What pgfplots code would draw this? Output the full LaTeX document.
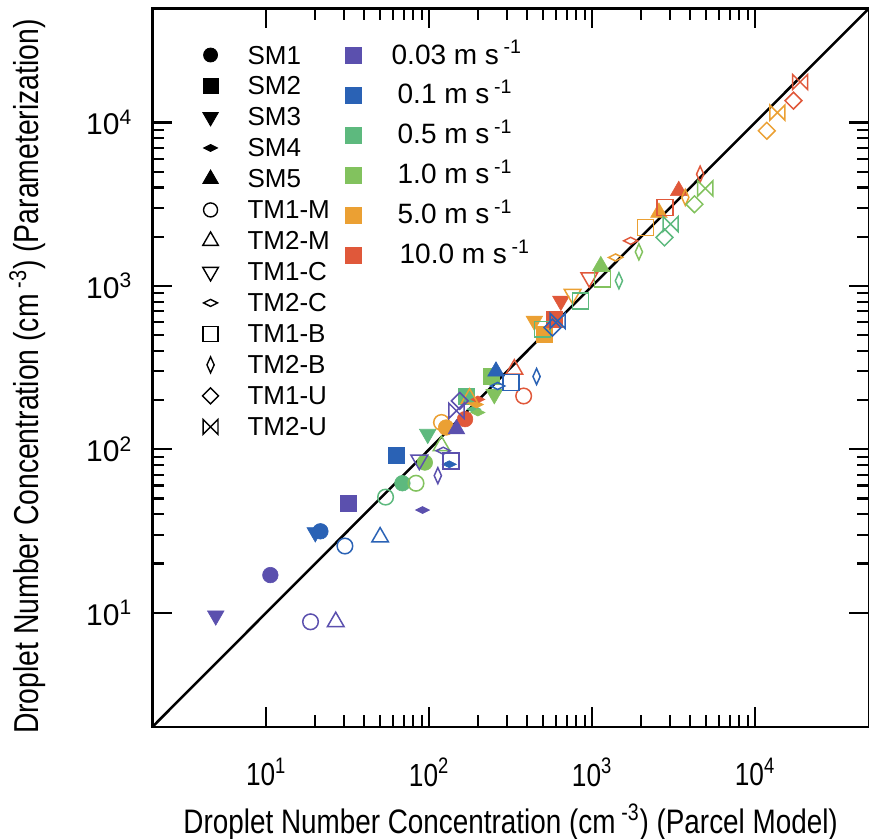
\documentclass[border=0pt]{standalone}
\usepackage{pgfplots}
\pgfplotsset{compat=1.18}
\usepackage{fontspec}
\setmainfont{Liberation Sans}
\newfontfamily\narrowfont[FakeStretch=0.82]{Liberation Sans}

\definecolor{c003}{HTML}{5B50AE}
\definecolor{c01}{HTML}{2A62B5}
\definecolor{c05}{HTML}{5DB97E}
\definecolor{c10}{HTML}{82C25E}
\definecolor{c50}{HTML}{EBA033}
\definecolor{c100}{HTML}{E0583A}

\pgfdeclareplotmark{flatdiam}{%
 \pgfpathmoveto{\pgfqpoint{-\pgfplotmarksize}{0pt}}%
 \pgfpathlineto{\pgfqpoint{0pt}{0.5\pgfplotmarksize}}%
 \pgfpathlineto{\pgfqpoint{\pgfplotmarksize}{0pt}}%
 \pgfpathlineto{\pgfqpoint{0pt}{-0.5\pgfplotmarksize}}%
 \pgfpathclose\pgfusepathqstroke}
\pgfdeclareplotmark{flatdiam*}{%
 \pgfpathmoveto{\pgfqpoint{-\pgfplotmarksize}{0pt}}%
 \pgfpathlineto{\pgfqpoint{0pt}{0.5\pgfplotmarksize}}%
 \pgfpathlineto{\pgfqpoint{\pgfplotmarksize}{0pt}}%
 \pgfpathlineto{\pgfqpoint{0pt}{-0.5\pgfplotmarksize}}%
 \pgfpathclose\pgfusepathqfillstroke}
\pgfdeclareplotmark{thindiam}{%
 \pgfpathmoveto{\pgfqpoint{0pt}{\pgfplotmarksize}}%
 \pgfpathlineto{\pgfqpoint{0.45\pgfplotmarksize}{0pt}}%
 \pgfpathlineto{\pgfqpoint{0pt}{-\pgfplotmarksize}}%
 \pgfpathlineto{\pgfqpoint{-0.45\pgfplotmarksize}{0pt}}%
 \pgfpathclose\pgfusepathqstroke}
\pgfdeclareplotmark{sqdiam}{%
 \pgfpathmoveto{\pgfqpoint{0pt}{\pgfplotmarksize}}%
 \pgfpathlineto{\pgfqpoint{\pgfplotmarksize}{0pt}}%
 \pgfpathlineto{\pgfqpoint{0pt}{-\pgfplotmarksize}}%
 \pgfpathlineto{\pgfqpoint{-\pgfplotmarksize}{0pt}}%
 \pgfpathclose\pgfusepathqstroke}
\pgfdeclareplotmark{bowtie}{%
 \pgfpathmoveto{\pgfqpoint{-\pgfplotmarksize}{\pgfplotmarksize}}%
 \pgfpathlineto{\pgfqpoint{-\pgfplotmarksize}{-\pgfplotmarksize}}%
 \pgfpathlineto{\pgfqpoint{\pgfplotmarksize}{\pgfplotmarksize}}%
 \pgfpathlineto{\pgfqpoint{\pgfplotmarksize}{-\pgfplotmarksize}}%
 \pgfpathclose\pgfusepathqstroke}

\newcommand{\tl}[1]{10\textsuperscript{#1}}

\pgfplotsset{
  vel/.style={scatter, only marks, scatter src=explicit symbolic,
    scatter/classes={a={draw=c003,fill=c003},b={draw=c01,fill=c01},c={draw=c05,fill=c05},
                     d={draw=c10,fill=c10},e={draw=c50,fill=c50},f={draw=c100,fill=c100}},
    forget plot},
  openm/.style={mark options={line width=0.75pt, fill=none}},
  fillm/.style={mark options={line width=0.3pt}},
}

\begin{document}
\begin{tikzpicture}
\begin{axis}[
  scale only axis, width=358.5pt, height=359.5pt,
  xmode=log, ymode=log, xmin=2, xmax=5e4, ymin=2, ymax=5e4,
  axis line style={line width=1.4pt},
  tick align=inside, major tick length=10pt, minor tick length=6pt,
  every tick/.style={black, line width=1.1pt},
  xtick={10,100,1000,10000}, ytick={10,100,1000,10000},
  xticklabels={\tl{1},\tl{2},\tl{3},\tl{4}},
  yticklabels={\tl{1},\tl{2},\tl{3},\tl{4}},
  xticklabel style={font=\narrowfont\fontsize{16}{19}\selectfont, yshift=-12pt},
  yticklabel style={font=\fontsize{15}{18}\selectfont, xshift=-6.5pt},
  xlabel={Droplet Number Concentration (cm\,\textsuperscript{-3}) (Parcel Model)},
  ylabel={Droplet Number Concentration (cm\,\textsuperscript{-3}) (Parameterization)},
  xlabel style={font=\narrowfont\fontsize{17}{20}\selectfont, at={(axis description cs:0.5,-0.1322)}, anchor=center},
  ylabel style={font=\narrowfont\fontsize{17.3}{20}\selectfont, at={(axis description cs:-0.174,0.4875)}, anchor=center},
  legend style={draw=none, fill=none, at={(axis description cs:0.0701,0.9475)}, anchor=north west,
    inner sep=0pt, outer sep=0pt, row sep=6.5pt,
    font=\fontsize{13}{15}\selectfont,
    nodes={inner sep=0pt, text height=9pt, text depth=0pt},
    /tikz/every odd column/.style={column sep=14.5pt}},
  legend cell align=left,
]
\coordinate (SW) at (rel axis cs:0,0);
\coordinate (NE) at (rel axis cs:1,1);

\addplot[black, line width=1.25pt, forget plot] coordinates {(2,2) (5e4,5e4)};

% SM1 filled circle
\addplot[vel, fillm, mark=*, mark size=3.9pt] table[meta=v] {
x y v
10.6 17 a
21.5 31.5 b
68.5 62 c
94 83 d
127 136 e
166 153 f
};
% SM2 filled square
\addplot[vel, fillm, mark=square*, mark size=4pt] table[meta=v] {
x y v
32 47 a
63 92 b
169 212 c
240 281 d
508 506 e
586 625 f
};
% SM3 filled down triangle
\addplot[vel, mark=triangle*, mark size=4.8pt, mark options={rotate=180, line width=0.3pt}] table[meta=v] {
x y v
4.9 9.6 a
20 31 b
98 124 c
251 217 d
442 611 e
643 809 f
};
% SM4 filled flat diamond
\addplot[vel, fillm, mark=flatdiam*, mark size=3.5pt] table[meta=v] {
x y v
91 42.5 a
133 81 b
188 176 c
199 168 d
195 188 e
199 202 f
};
% SM5 filled up triangle
\addplot[vel, fillm, mark=triangle*, mark size=4.8pt] table[meta=v] {
x y v
147 133 a
257 300 b
1130 1325 d
2570 2810 e
3400 3820 f
};
% TM1-M open circle
\addplot[vel, openm, mark=o, mark size=3.9pt] table[meta=v] {
x y v
18.7 8.8 a
30.4 25.6 b
54 51 c
83 62 d
119 146 e
380 212 f
};
% TM2-M open triangle
\addplot[vel, openm, mark=triangle, mark size=4.8pt] table[meta=v] {
x y v
26.7 8.8 a
50 29 b
119 105 d
177 205 e
333 309 f
};
% TM1-C open down triangle
\addplot[vel, mark=triangle, mark size=4.8pt, mark options={rotate=180, line width=0.75pt}] table[meta=v] {
x y v
87 86 a
759 889 e
960 1125 f
};
% TM2-C open flat diamond
\addplot[vel, openm, mark=flatdiam, mark size=3.5pt] table[meta=v] {
x y v
122 98 a
263 244 b
1393 1493 e
1722 1888 f
};
% TM1-B open square
\addplot[vel, openm, mark=square, mark size=4pt] table[meta=v] {
x y v
136 85 a
318 256 b
497 543 c
851 809 c
1156 1100 d
2130 2280 e
2800 3020 f
};
% TM2-B thin diamond
\addplot[vel, openm, mark=thindiam, mark size=4pt] table[meta=v] {
x y v
113 69 a
456 279 b
1460 1075 c
1936 1615 d
3730 3480 e
4600 4830 f
};
% TM1-U diamond
\addplot[vel, openm, mark=sqdiam, mark size=4.2pt] table[meta=v] {
x y v
154 198 a
571 556 b
2780 1980 c
4245 3160 d
11800 8900 e
17200 13600 f
};
% TM2-U bowtie
\addplot[vel, openm, mark=bowtie, mark size=3.8pt] table[meta=v] {
x y v
147 172 a
614 611 b
3030 2390 c
4950 3950 d
13700 11500 e
18900 17700 f
};

\addlegendimage{only marks, black, mark=*, mark size=3.5pt}
\addlegendentry{SM1}
\addlegendimage{only marks, black, mark=square*, mark size=3.7pt}
\addlegendentry{SM2}
\addlegendimage{only marks, black, mark=triangle*, mark size=4.5pt, mark options={rotate=180}}
\addlegendentry{SM3}
\addlegendimage{only marks, black, mark=flatdiam*, mark size=3.5pt}
\addlegendentry{SM4}
\addlegendimage{only marks, black, mark=triangle*, mark size=4.5pt}
\addlegendentry{SM5}
\addlegendimage{only marks, black, mark=o, mark size=3.5pt, mark options={line width=0.7pt}}
\addlegendentry{TM1-M}
\addlegendimage{only marks, black, mark=triangle, mark size=4.5pt, mark options={line width=0.7pt}}
\addlegendentry{TM2-M}
\addlegendimage{only marks, black, mark=triangle, mark size=4.5pt, mark options={rotate=180, line width=0.7pt}}
\addlegendentry{TM1-C}
\addlegendimage{only marks, black, mark=flatdiam, mark size=3.5pt, mark options={line width=0.7pt}}
\addlegendentry{TM2-C}
\addlegendimage{only marks, black, mark=square, mark size=3.7pt, mark options={line width=0.7pt}}
\addlegendentry{TM1-B}
\addlegendimage{only marks, black, mark=thindiam, mark size=4pt, mark options={line width=0.7pt}}
\addlegendentry{TM2-B}
\addlegendimage{only marks, black, mark=sqdiam, mark size=4pt, mark options={line width=0.7pt}}
\addlegendentry{TM1-U}
\addlegendimage{only marks, black, mark=bowtie, mark size=3.7pt, mark options={line width=0.7pt}}
\addlegendentry{TM2-U}
\end{axis}

\begin{axis}[
  scale only axis, width=358.5pt, height=359.5pt,
  xmode=log, ymode=log, xmin=2, xmax=5e4, ymin=2, ymax=5e4,
  hide axis,
  legend style={draw=none, fill=none, at={(axis description cs:0.2698,0.9475)}, anchor=north west,
    inner sep=0pt, outer sep=0pt, row sep=11pt,
    font=\fontsize{14}{15}\selectfont,
    nodes={inner sep=0pt, text height=9pt, text depth=0pt},
    /tikz/every odd column/.style={column sep=15pt}},
  legend cell align=left,
]
\addlegendimage{only marks, c003, mark=square*, mark size=4pt}
\addlegendentry{0.03 m s\,\textsuperscript{-1}}
\addlegendimage{only marks, c01, mark=square*, mark size=4pt}
\addlegendentry{\hspace{3pt}0.1 m s\,\textsuperscript{-1}}
\addlegendimage{only marks, c05, mark=square*, mark size=4pt}
\addlegendentry{\hspace{3pt}0.5 m s\,\textsuperscript{-1}}
\addlegendimage{only marks, c10, mark=square*, mark size=4pt}
\addlegendentry{\hspace{3pt}1.0 m s\,\textsuperscript{-1}}
\addlegendimage{only marks, c50, mark=square*, mark size=4pt}
\addlegendentry{\hspace{3pt}5.0 m s\,\textsuperscript{-1}}
\addlegendimage{only marks, c100, mark=square*, mark size=4pt}
\addlegendentry{\hspace{4pt}10.0 m s\,\textsuperscript{-1}}
\end{axis}
\pgfresetboundingbox
\useasboundingbox ([xshift=-76.2pt,yshift=-55.65pt]SW) rectangle ([yshift=4.15pt]NE);
\end{tikzpicture}
\end{document}
